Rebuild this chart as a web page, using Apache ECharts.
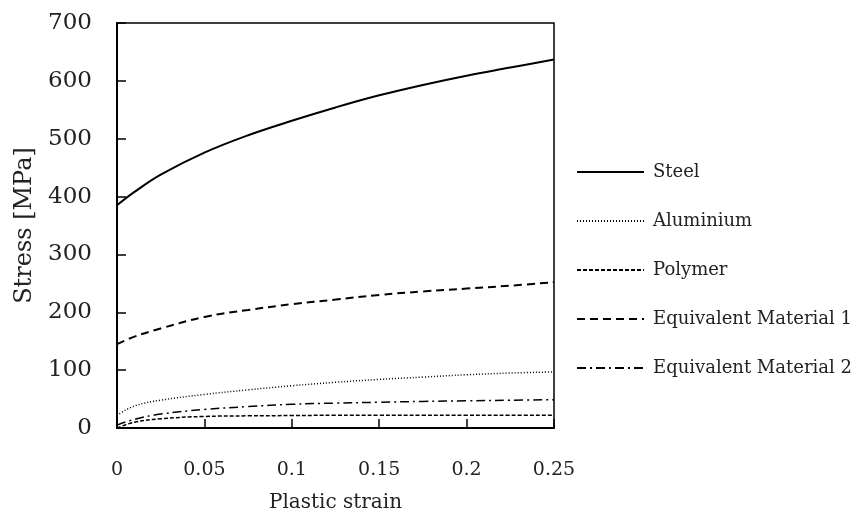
<!DOCTYPE html>
<html><head><meta charset="utf-8">
<script src="https://cdn.jsdelivr.net/npm/echarts@6/dist/echarts.min.js"></script>
<style>html,body{margin:0;padding:0;background:#fff}#c{width:858px;height:518px}</style>
</head><body><div id="c"></div>
<script>
const strain = [0, 0.01, 0.025, 0.05, 0.075, 0.1, 0.125, 0.15, 0.175, 0.2, 0.225, 0.25];
const steel = [385, 408, 438, 476, 506, 531, 554, 575, 593, 609, 623, 637];
const aluminium = [22, 38, 48, 58, 66, 73, 79, 84, 88, 92, 95, 97];
const polymer = [0, 10, 16, 20, 21, 21.5, 22, 22, 22, 22, 22, 22];
const equiv1 = [145, 158, 172, 192, 204, 214, 222, 230, 236, 241, 246, 252];
const equiv2 = [5, 15, 24, 32, 37, 41, 43, 44.5, 46, 47, 48, 49];
const names = ['Steel', 'Aluminium', 'Polymer', 'Equivalent Material 1', 'Equivalent Material 2'];
const xTicks = ['0', '0.05', '0.1', '0.15', '0.2', '0.25'];

const FONT = 'DejaVu Serif';
const TXT = '#222';
const pairs = arr => strain.map((x, i) => [x, arr[i]]);
const styles = [
  {width: 2, type: 'solid'},
  {width: 1.5, type: [1, 2]},
  {width: 1.5, type: [4, 2]},
  {width: 2, type: [8, 5]},
  {width: 1.5, type: [9, 4, 2, 4]}
];
const datas = [steel, aluminium, polymer, equiv1, equiv2];
const chart = echarts.init(document.getElementById('c'));
chart.setOption({
  animation: false,
  textStyle: {fontFamily: FONT, color: TXT},
  grid: {left: 117, top: 23, right: 304, bottom: 85, show: true, borderColor: '#000', borderWidth: 1.5, backgroundColor: 'transparent'},
  legend: {
    orient: 'vertical', left: 571, top: 158, itemWidth: 67, itemHeight: 14, itemGap: 31,
    itemStyle: {opacity: 0},
    textStyle: {fontFamily: FONT, fontSize: 18, color: TXT, padding: [0, 0, 0, 4]},
    data: names
  },
  xAxis: {
    type: 'value', min: 0, max: 0.25, interval: 0.05,
    name: 'Plastic strain', nameLocation: 'middle', nameGap: 65,
    nameTextStyle: {fontFamily: FONT, fontSize: 20, color: TXT},
    axisLine: {lineStyle: {color: '#000', width: 2}},
    axisTick: {inside: true, length: 9, lineStyle: {color: '#000', width: 1.5}},
    axisLabel: {fontFamily: FONT, fontSize: 19, color: TXT, margin: 33, formatter: (v, i) => xTicks[i]},
    splitLine: {show: false}
  },
  yAxis: {
    type: 'value', min: 0, max: 700, interval: 100,
    name: 'Stress [MPa]', nameLocation: 'middle', nameGap: 79,
    nameTextStyle: {fontFamily: FONT, fontSize: 24, color: TXT},
    axisLine: {show: true, lineStyle: {color: '#000', width: 2}},
    axisTick: {show: true, inside: true, length: 9, lineStyle: {color: '#000', width: 1.5}},
    axisLabel: {fontFamily: FONT, fontSize: 23, color: TXT, margin: 25, padding: [5, 0, 0, 0]},
    splitLine: {show: false}
  },
  series: names.map((n, i) => ({
    name: n, type: 'line', smooth: 0.4, symbol: 'none', showSymbol: false,
    data: pairs(datas[i]),
    lineStyle: {color: '#000', width: styles[i].width, type: styles[i].type},
    itemStyle: {color: '#000'}
  }))
});
</script></body></html>
